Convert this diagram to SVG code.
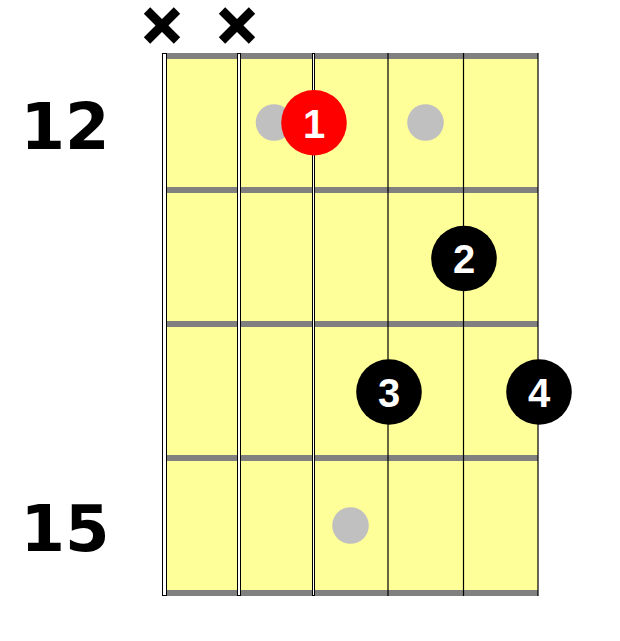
<svg xmlns="http://www.w3.org/2000/svg" width="620" height="641" viewBox="0 0 620 641">
<style>
.fret{fill:#808080}
.wound{fill:#ffffff;stroke:#000000;stroke-width:1}
.plain{stroke:#000000;stroke-width:1.2}
.inlay{fill:#c0c0c0}
.finger{fill:#000000}
.root{fill:#ff0000}
.num{font-family:"Liberation Sans",Arial,sans-serif;font-weight:bold;font-size:40px;fill:#ffffff;text-anchor:middle}
.fretnum{font-family:"DejaVu Sans",Verdana,sans-serif;font-weight:bold;font-size:64px;fill:#000000;text-anchor:middle}
.mute{stroke:#000000;stroke-width:9;stroke-linecap:butt}
</style>
<rect width="620" height="641" fill="#ffffff"/>
<g id="fretboard">
<rect x="164" y="56" width="374" height="537" fill="#ffff99"/>
<rect class="fret" x="164" y="53" width="374" height="6"/>
<rect class="fret" x="164" y="187" width="374" height="6"/>
<rect class="fret" x="164" y="321" width="374" height="6"/>
<rect class="fret" x="164" y="455" width="374" height="6"/>
<rect class="fret" x="164" y="590" width="374" height="6"/>
</g>
<g id="strings">
<rect class="wound" x="162.5" y="53.5" width="4" height="542"/>
<rect class="wound" x="237.5" y="53.5" width="3" height="542"/>
<rect class="wound" x="312.5" y="53.5" width="2" height="542"/>
<line class="plain" x1="388" y1="53" x2="388" y2="596"/>
<line class="plain" x1="463.5" y1="53" x2="463.5" y2="596"/>
<line class="plain" x1="538" y1="53" x2="538" y2="596"/>
</g>
<g id="mutes">
<g id="mute-1"><line class="mute" x1="147" y1="10.5" x2="177" y2="40.5"/><line class="mute" x1="177" y1="10.5" x2="147" y2="40.5"/></g>
<g id="mute-2"><line class="mute" x1="222" y1="10.5" x2="252" y2="40.5"/><line class="mute" x1="252" y1="10.5" x2="222" y2="40.5"/></g>
</g>
<g id="fret-numbers">
<text class="fretnum" x="65" y="149">12</text>
<text class="fretnum" x="65" y="551">15</text>
</g>
<g id="inlays">
<circle class="inlay" cx="274" cy="122.5" r="18.3"/>
<circle class="inlay" cx="425.5" cy="122.5" r="18.3"/>
<circle class="inlay" cx="350.5" cy="525.5" r="18.3"/>
</g>
<g id="finger-1"><circle class="root" cx="314" cy="122.7" r="32.8"/><text class="num" x="314" y="137.5">1</text></g>
<g id="finger-2"><circle class="finger" cx="464" cy="258.5" r="32.8"/><text class="num" x="464" y="273">2</text></g>
<g id="finger-3"><circle class="finger" cx="389" cy="392" r="32.8"/><text class="num" x="389" y="407">3</text></g>
<g id="finger-4"><circle class="finger" cx="539" cy="392" r="32.8"/><text class="num" x="539" y="407">4</text></g>
</svg>
